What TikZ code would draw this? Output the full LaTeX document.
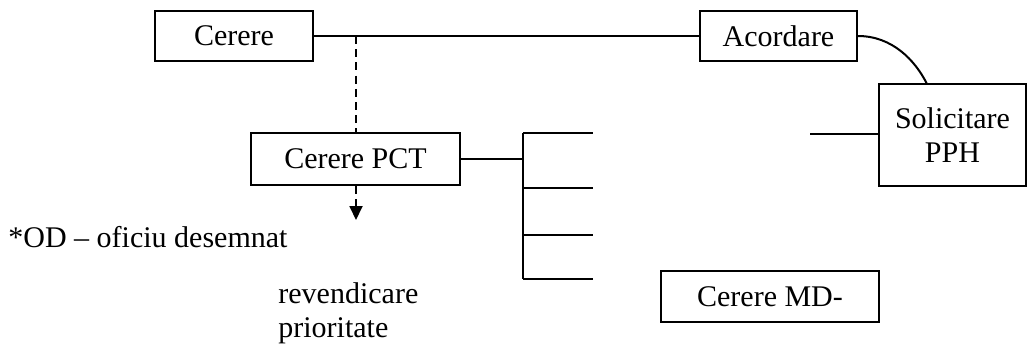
\documentclass[tikz,border=0pt]{standalone}
\usepackage{fontspec}
\setmainfont{Liberation Serif}
\usetikzlibrary{arrows.meta}
\tikzset{
  x=0.5pt, y=-0.5pt,
  lbl/.style={font=\fontsize{15}{17}\selectfont},
  box/.style={draw, line width=1pt, lbl, inner sep=0pt, align=center},
  conn/.style={line width=1pt},
  dconn/.style={line width=0.9pt, dash pattern=on 4pt off 2.6pt},
  txt/.style={lbl, inner sep=0pt, align=left},
}
\begin{document}
\begin{tikzpicture}
\useasboundingbox (0,0) rectangle (1027,345);
% boxes
\node[box, minimum width=79pt, minimum height=25pt] (cer) at (234,36) {Cerere};
\node[box, minimum width=78.5pt, minimum height=25pt] (acord) at (778.5,36) {Acordare};
\node[box, minimum width=73.5pt, minimum height=51pt] (sol) at (952.5,135) {Solicitare\\PPH};
\node[box, minimum width=104.5pt, minimum height=26pt] (pct) at (355.5,159) {Cerere PCT};
\node[box, minimum width=109pt, minimum height=25.5pt] (md) at (770,296.5) {Cerere MD-};
% texts
\node[txt, anchor=base west] (od) at (8,247) {*OD -- oficiu desemnat};
\node[txt, anchor=base west] (rev1) at (278,303) {revendicare};
\node[txt, anchor=base west] (rev2) at (278,337) {prioritate};
% coordinates
\coordinate (j) at (356,36);
\coordinate (tip) at (356,220);
\coordinate (t) at (523,159);
\coordinate (vtop) at (523,133);
\coordinate (vbot) at (523,279);
\coordinate (b1) at (593,133);
\coordinate (b2) at (593,188);
\coordinate (b3) at (593,235);
\coordinate (b4) at (593,279);
\coordinate (sl) at (810,134);
\coordinate (c) at (927,84);
% connectors
\draw[conn] (cer.east) -- (acord.west);
\draw[dconn] (j) -- (j |- pct.north);
\draw[dconn, -{Triangle[length=7pt,width=6.5pt]}] (j |- pct.south) -- (tip);
\draw[conn] (acord.east) .. controls (892,36) and (915,60) .. (c);
\draw[conn] (sl) -- (sl -| sol.west);
\draw[conn] (pct.east) -- (t);
\draw[conn] (vtop) -- (vbot);
\draw[conn] (vtop) -- (b1);
\draw[conn] (vtop |- b2) -- (b2);
\draw[conn] (vtop |- b3) -- (b3);
\draw[conn] (vbot) -- (b4);
\end{tikzpicture}
\end{document}
